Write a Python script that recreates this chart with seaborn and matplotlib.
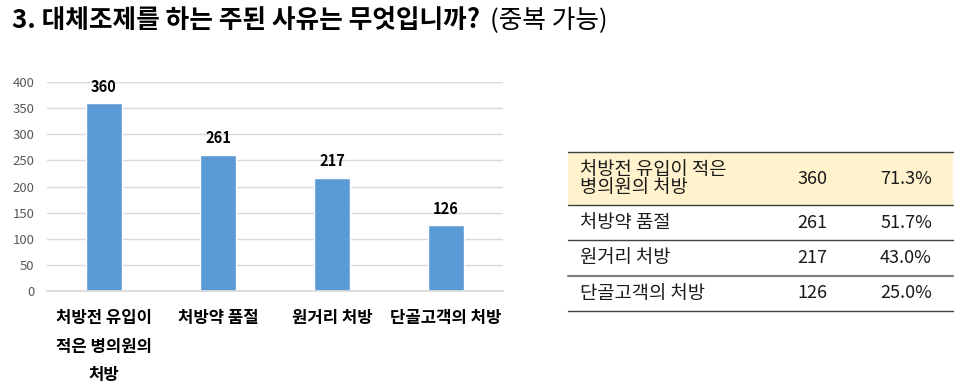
import matplotlib
matplotlib.use("Agg")
import matplotlib.pyplot as plt
import seaborn as sns
import pandas as pd

categories = ["처방전 유입이\n적은 병의원의\n처방", "처방약 품절", "원거리 처방", "단골고객의 처방"]
table_labels = ["처방전 유입이 적은\n병의원의 처방", "처방약 품절", "원거리 처방", "단골고객의 처방"]
counts = [360, 261, 217, 126]
percents = ["71.3%", "51.7%", "43.0%", "25.0%"]
yticks = [0, 50, 100, 150, 200, 250, 300, 350, 400]
title_bold = "3. 대체조제를 하는 주된 사유는 무엇입니까?"
title_regular = "(중복 가능)"

sns.set_theme(style="white")
plt.rcParams['font.family'] = ['Noto Sans CJK KR', 'DejaVu Sans']

W, H = 960, 385
fig = plt.figure(figsize=(9.6, 3.85), dpi=100)
ax = fig.add_axes([47 / W, 1 - 291 / H, (503 - 47) / W, (291 - 82) / H])

df = pd.DataFrame({"cat": categories, "n": counts})
sns.barplot(data=df, x="cat", y="n", ax=ax, color="#5B9BD5", width=0.316, saturation=1)
ax.set_ylim(0, 400)
ax.set_xlim(-0.5, 3.5)
ax.set_yticks(yticks)
ax.set_xlabel("")
ax.set_ylabel("")
ax.grid(axis="y", color="#D9D9D9", linewidth=1)
ax.set_axisbelow(True)
for s in ["top", "right", "left"]:
    ax.spines[s].set_visible(False)
ax.spines["bottom"].set_color("#D9D9D9")
ax.tick_params(axis="y", labelsize=9.5, colors="#595959", length=0, pad=9)
ax.tick_params(axis="x", length=0, pad=13)
for lab in ax.get_xticklabels():
    lab.set_fontsize(12)
    lab.set_fontweight("bold")
    lab.set_verticalalignment("top")
    lab.set_linespacing(1.75)
    lab.set_color("#000000")
for p, v in zip(ax.patches, counts):
    ax.annotate(str(v), (p.get_x() + p.get_width() / 2, v), xytext=(0, 6),
                textcoords="offset points", ha="center", va="bottom",
                fontsize=10.5, fontweight="bold", color="#000000")

# Title
t1 = fig.text(12 / W, 1 - 21 / H, title_bold, fontsize=18.5, fontweight="bold",
              va="center", ha="left", color="#000000")
fig.canvas.draw()
bb = t1.get_window_extent(renderer=fig.canvas.get_renderer())
fig.text((bb.x1 + 10) / W, 1 - 21 / H, title_regular, fontsize=18.5,
         va="center", ha="left", color="#000000")

# Table
x0, x1 = 568, 953
rows = [152, 205, 240, 276, 311]
fig.patches.append(plt.Rectangle((x0 / W, 1 - rows[1] / H), (x1 - x0) / W,
                                 (rows[1] - rows[0]) / H, transform=fig.transFigure,
                                 facecolor="#FFF2CC", edgecolor="none", zorder=0))
for i, y in enumerate(rows):
    lw = 1.6 if i == 3 else 1.0
    col = "#808080" if i == 3 else "#404040"
    fig.add_artist(plt.Line2D([x0 / W, x1 / W], [1 - y / H, 1 - y / H],
                              transform=fig.transFigure, color=col, linewidth=lw))
for i in range(4):
    yc = (rows[i] + rows[i + 1]) / 2
    fig.text(580 / W, 1 - yc / H, table_labels[i], fontsize=13.5, va="center",
             ha="left", color="#1a1a1a", linespacing=0.85)
    fig.text(797 / W, 1 - yc / H, str(counts[i]), fontsize=13, va="center",
             ha="left", color="#1a1a1a")
    fig.text(932 / W, 1 - yc / H, percents[i], fontsize=13, va="center",
             ha="right", color="#1a1a1a")

fig.savefig("out.png", dpi=100)
